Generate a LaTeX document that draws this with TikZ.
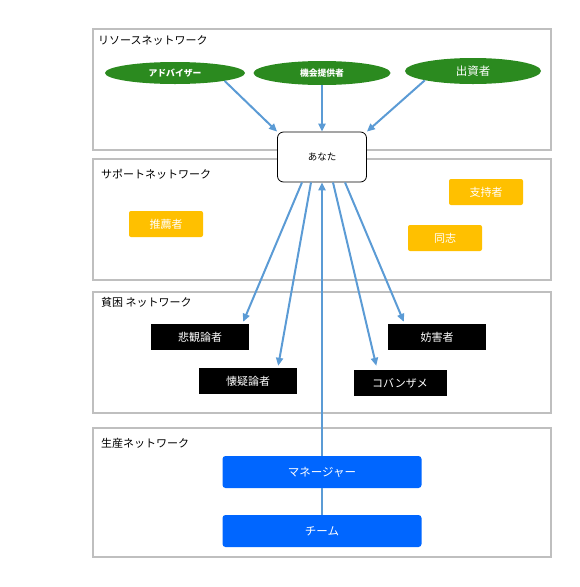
\documentclass[tikz,border=0pt]{standalone}
\usepackage{fontspec}
\setmainfont{Noto Sans CJK JP}
\usetikzlibrary{shapes.geometric,arrows.meta}
\definecolor{frameg}{HTML}{BFBFBF}
\definecolor{resg}{HTML}{2B8A1F}
\definecolor{supo}{HTML}{FFC000}
\definecolor{prodb}{HTML}{0066FF}
\definecolor{arrb}{HTML}{5B9BD5}
\begin{document}
\begin{tikzpicture}[x=1pt, y=-1pt,
  netframe/.style={draw=frameg, line width=1.1pt, minimum width=458pt},
  netlabel/.style={anchor=west, inner sep=0pt, font=\fontsize{11}{13}\selectfont},
  resnode/.style={ellipse, fill=resg, text=white, inner sep=0pt, font=\bfseries\fontsize{8.8}{10}\selectfont},
  supnode/.style={fill=supo, text=white, rounded corners=2pt, minimum width=74pt, minimum height=26pt, font=\fontsize{11}{13}\selectfont},
  povnode/.style={fill=black, text=white, minimum width=98pt, minimum height=26pt, font=\fontsize{11}{13}\selectfont},
  prodnode/.style={fill=prodb, text=white, rounded corners=3pt, minimum width=199pt, minimum height=32pt, font=\fontsize{11.5}{13}\selectfont},
  arr/.style={-{Triangle[length=8pt,width=7pt]}, draw=arrb, line width=2pt}
]
\useasboundingbox (0,0) rectangle (580,587);
% network frames
\node[netframe, minimum height=121pt] (resframe) at (322,89.5) {};
\node[netframe, minimum height=121pt] (supframe) at (322,219.5) {};
\node[netframe, minimum height=121pt] (povframe) at (322,352.5) {};
\node[netframe, minimum height=129pt] (prodframe) at (322,492.5) {};
\node[netlabel] (reslabel) at (98,40) {リソースネットワーク};
\node[netlabel] (suplabel) at (101,174) {サポートネットワーク};
\node[netlabel] (povlabel) at (101,302) {貧困 ネットワーク};
\node[netlabel] (prodlabel) at (101,443) {生産ネットワーク};
% you
\node[draw, line width=0.8pt, fill=white, rounded corners=6pt, minimum width=89pt, minimum height=50pt,
  font=\fontsize{9.5}{11}\selectfont] (you) at (322,157) {あなた};
% resource network
\node[resnode, minimum width=140pt, minimum height=22pt] (adv) at (175,73) {アドバイザー};
\node[resnode, minimum width=137pt, minimum height=24pt] (opp) at (322,73) {機会提供者};
\node[resnode, minimum width=136pt, minimum height=26pt, font=\fontsize{11.5}{13}\selectfont] (inv) at (473,71) {出資者};
% support network
\node[supnode] (rec) at (166,224) {推薦者};
\node[supnode] (sup) at (486,192) {支持者};
\node[supnode] (com) at (445,238) {同志};
% poverty network
\node[povnode] (pess) at (200,337) {悲観論者};
\node[povnode] (skep) at (248,381) {懐疑論者};
\node[povnode] (obs) at (437,337) {妨害者};
\node[povnode, minimum width=93pt] (kob) at (400,383) {コバンザメ};
% production network
\node[prodnode] (mgr) at (322,472) {マネージャー};
\node[prodnode] (team) at (322,531) {チーム};
% connectors
\draw[arr] (adv.south east) -- (you.north west);
\draw[arr] (opp.south) -- (you.north);
\draw[arr] (inv.south west) -- (you.north east);
\draw[arr] ([xshift=-20pt]you.south) -- ([xshift=-6pt,yshift=2pt]pess.north east);
\draw[arr] ([xshift=-11pt]you.south) -- ([xshift=-19pt,yshift=2pt]skep.north east);
\draw[arr] ([xshift=11pt]you.south) -- ([xshift=23pt,yshift=4pt]kob.north west);
\draw[arr] ([xshift=23pt]you.south) -- ([xshift=16pt,yshift=2pt]obs.north west);
\draw[arr] (mgr.north) -- (you.south);
\draw[draw=arrb, line width=2pt] (team.north) -- (mgr.south);
\end{tikzpicture}
\end{document}
